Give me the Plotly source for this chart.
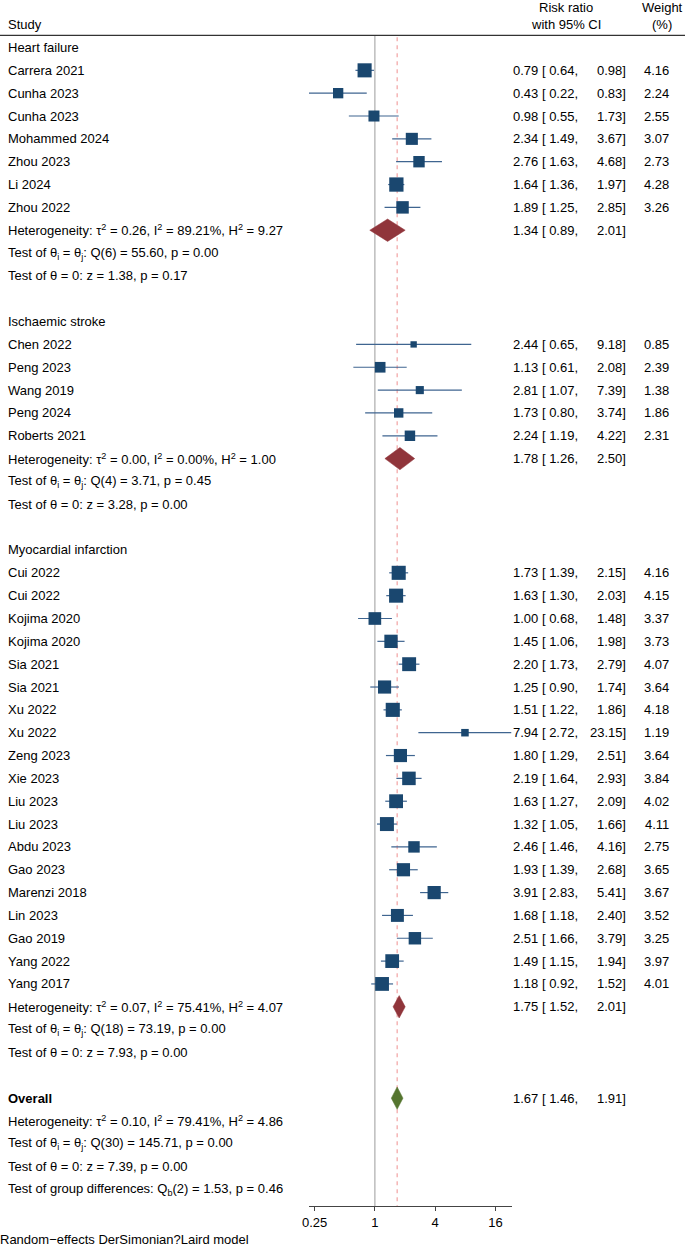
import math
import plotly.graph_objects as go

# ---------------- data ----------------
hf_study = ["Carrera 2021", "Cunha 2023", "Cunha 2023", "Mohammed 2024", "Zhou 2023", "Li 2024", "Zhou 2022"]
hf_rr = [0.79, 0.43, 0.98, 2.34, 2.76, 1.64, 1.89]
hf_lo = [0.64, 0.22, 0.55, 1.49, 1.63, 1.36, 1.25]
hf_hi = [0.98, 0.83, 1.73, 3.67, 4.68, 1.97, 2.85]
hf_wt = [4.16, 2.24, 2.55, 3.07, 2.73, 4.28, 3.26]
hf_pool = [1.34, 0.89, 2.01]
hf_stats = ["0.26", "89.21", "9.27", "6", "55.60", "0.00", "1.38", "0.17"]

is_study = ["Chen 2022", "Peng 2023", "Wang 2019", "Peng 2024", "Roberts 2021"]
is_rr = [2.44, 1.13, 2.81, 1.73, 2.24]
is_lo = [0.65, 0.61, 1.07, 0.80, 1.19]
is_hi = [9.18, 2.08, 7.39, 3.74, 4.22]
is_wt = [0.85, 2.39, 1.38, 1.86, 2.31]
is_pool = [1.78, 1.26, 2.50]
is_stats = ["0.00", "0.00", "1.00", "4", "3.71", "0.45", "3.28", "0.00"]

mi_study = ["Cui 2022", "Cui 2022", "Kojima 2020", "Kojima 2020", "Sia 2021", "Sia 2021",
            "Xu 2022", "Xu 2022", "Zeng 2023", "Xie 2023", "Liu 2023", "Liu 2023",
            "Abdu 2023", "Gao 2023", "Marenzi 2018", "Lin 2023", "Gao 2019", "Yang 2022", "Yang 2017"]
mi_rr = [1.73, 1.63, 1.00, 1.45, 2.20, 1.25, 1.51, 7.94, 1.80, 2.19, 1.63, 1.32, 2.46, 1.93, 3.91, 1.68, 2.51, 1.49, 1.18]
mi_lo = [1.39, 1.30, 0.68, 1.06, 1.73, 0.90, 1.22, 2.72, 1.29, 1.64, 1.27, 1.05, 1.46, 1.39, 2.83, 1.18, 1.66, 1.15, 0.92]
mi_hi = [2.15, 2.03, 1.48, 1.98, 2.79, 1.74, 1.86, 23.15, 2.51, 2.93, 2.09, 1.66, 4.16, 2.68, 5.41, 2.40, 3.79, 1.94, 1.52]
mi_wt = [4.16, 4.15, 3.37, 3.73, 4.07, 3.64, 4.18, 1.19, 3.64, 3.84, 4.02, 4.11, 2.75, 3.65, 3.67, 3.52, 3.25, 3.97, 4.01]
mi_pool = [1.75, 1.52, 2.01]
mi_stats = ["0.07", "75.41", "4.07", "18", "73.19", "0.00", "7.93", "0.00"]

group_names = ["Heart failure", "Ischaemic stroke", "Myocardial infarction"]

overall_pool = [1.67, 1.46, 1.91]
overall_stats = ["0.10", "79.41", "4.86", "30", "145.71", "0.00", "7.39", "0.00"]
group_diff = ["2", "1.53", "0.46"]

x_ticks = [0.25, 1, 4, 16]
x_ticklabels = ["0.25", "1", "4", "16"]

# ---------------- styling / geometry ----------------
W, H = 685, 1247
ROW0, ROWH = 47.5, 22.84          # pixel y of row 0, row height
AX_BOTTOM = 1206                  # pixel y of x axis line
X_LEFT, X_RIGHT = 309.0, 511.5    # pixel extent of plot panel
FONT = "Liberation Sans, Arial, Helvetica, sans-serif"
FS = 13
SQ = "#1a476f"
CI_COL = "#3f6590"
MAROON = "#90353b"
GREEN = "#55752f"

def px(x):
    return x / W

def py(y):
    return 1 - y / H

groups = [
    (group_names[0], hf_study, hf_rr, hf_lo, hf_hi, hf_wt, hf_pool, hf_stats),
    (group_names[1], is_study, is_rr, is_lo, is_hi, is_wt, is_pool, is_stats),
    (group_names[2], mi_study, mi_rr, mi_lo, mi_hi, mi_wt, mi_pool, mi_stats),
]

annotations = []

def left_text(row, text, bold=False):
    annotations.append(dict(x=px(6), xref="paper", y=row, yref="y", text=("<b>%s</b>" % text) if bold else text,
                            showarrow=False, xanchor="left", yanchor="middle",
                            font=dict(family=FONT, size=FS, color="black")))

def right_text(row, xpix, text):
    annotations.append(dict(x=px(xpix), xref="paper", y=row, yref="y", text=text,
                            showarrow=False, xanchor="right", yanchor="middle",
                            font=dict(family=FONT, size=FS, color="black")))

def ci_texts(row, est, lo, hi, wt=None):
    right_text(row, 580, "%.2f [ %.2f," % (est, lo))
    right_text(row, 628, "%.2f]" % hi)
    if wt is not None:
        right_text(row, 671, "%.2f" % wt)

def stat_texts(row, st):
    left_text(row, "Heterogeneity: τ<sup>2</sup> = %s, I<sup>2</sup> = %s%%, H<sup>2</sup> = %s" % (st[0], st[1], st[2]))
    left_text(row + 1, "Test of θ<sub>i</sub> = θ<sub>j</sub>: Q(%s) = %s, p = %s" % (st[3], st[4], st[5]))
    left_text(row + 2, "Test of θ = 0: z = %s, p = %s" % (st[6], st[7]))

ci_x, ci_y = [], []
sq_x, sq_y, sq_s = [], [], []
diamonds = []

r = 0
for name, studies, rr, lo, hi, wt, pool, st in groups:
    left_text(r, name)
    r += 1
    for s, e, l, h, w in zip(studies, rr, lo, hi, wt):
        left_text(r, s)
        ci_texts(r, e, l, h, w)
        ci_x += [l, h, None]
        ci_y += [r, r, None]
        sq_x.append(e)
        sq_y.append(r)
        sq_s.append(6.9 * math.sqrt(w))
        r += 1
    diamonds.append((r, pool, MAROON))
    ci_texts(r, pool[0], pool[1], pool[2])
    stat_texts(r, st)
    r += 4

left_text(r, "Overall", bold=True)
diamonds.append((r, overall_pool, GREEN))
ci_texts(r, overall_pool[0], overall_pool[1], overall_pool[2])
stat_texts(r + 1, overall_stats)
left_text(r + 4, "Test of group differences: Q<sub>b</sub>(%s) = %s, p = %s" % tuple(group_diff))

fig = go.Figure()

y_top_row = (36.0 - ROW0) / ROWH
y_bot_row = (AX_BOTTOM - ROW0) / ROWH

# reference lines (null effect and overall estimate)
fig.add_trace(go.Scatter(x=[1, 1], y=[y_top_row, y_bot_row], mode="lines",
                         line=dict(color="#bdbdbd", width=1.5), hoverinfo="skip"))
fig.add_trace(go.Scatter(x=[overall_pool[0], overall_pool[0]], y=[y_top_row + 0.05, y_bot_row], mode="lines",
                         line=dict(color="#f19b9b", width=1.1, dash="4px,4px"), hoverinfo="skip"))
# confidence intervals
fig.add_trace(go.Scatter(x=ci_x, y=ci_y, mode="lines", line=dict(color=CI_COL, width=1.2),
                         hoverinfo="skip"))
# study squares (area ~ weight)
fig.add_trace(go.Scatter(x=sq_x, y=sq_y, mode="markers",
                         marker=dict(symbol="square", size=sq_s, color=SQ, opacity=1, line=dict(width=0))))
# pooled diamonds
DH = 0.49
for row, (e, l, h), col in diamonds:
    fig.add_trace(go.Scatter(x=[l, e, h, e, l], y=[row, row - DH, row, row + DH, row],
                             mode="lines", fill="toself", fillcolor=col,
                             line=dict(color=col, width=0.5), hoverinfo="skip"))

hdr = [("Study", 6, 24.5, "left"), ("Risk ratio", 566, 7, "center"), ("with 95% CI", 566, 24.5, "center"),
       ("Weight", 662, 7, "center"), ("(%)", 662, 24.5, "center")]
for t, xx, yy, anc in hdr:
    annotations.append(dict(x=px(xx), xref="paper", y=py(yy), yref="paper", text=t, showarrow=False,
                            xanchor=anc, yanchor="middle", font=dict(family=FONT, size=FS, color="black")))
annotations.append(dict(x=px(-2), xref="paper", y=py(1239), yref="paper",
                        text="Random−effects DerSimonian?Laird model", showarrow=False,
                        xanchor="left", yanchor="middle", font=dict(family=FONT, size=FS, color="black")))

all_lo = hf_lo + is_lo + mi_lo
all_hi = hf_hi + is_hi + mi_hi

fig.update_layout(
    width=W, height=H, autosize=False,
    margin=dict(l=0, r=0, t=0, b=0, autoexpand=False),
    paper_bgcolor="white", plot_bgcolor="white",
    showlegend=False,
    annotations=annotations,
    shapes=[dict(type="line", xref="paper", yref="paper", x0=0, x1=1, y0=py(35.3), y1=py(35.3),
                 line=dict(color="black", width=1))],
    xaxis=dict(type="log", domain=[px(X_LEFT), px(X_RIGHT)], automargin=False,
               range=[math.log10(min(all_lo)), math.log10(max(all_hi))],
               tickvals=x_ticks, ticktext=x_ticklabels, showgrid=False, zeroline=False,
               showline=True, linecolor="#444444", linewidth=1, ticks="outside", ticklen=4,
               tickcolor="#444444", tickfont=dict(family=FONT, size=FS, color="black")),
    yaxis=dict(domain=[1 - AX_BOTTOM / H, 1], automargin=False,
               range=[y_bot_row, (0 - ROW0) / ROWH],
               visible=False, showgrid=False, zeroline=False),
)

fig.write_html(
    "out.html",
    config={"displayModeBar": False, "responsive": False},
    post_script=("document.documentElement.style.margin='0';document.body.style.margin='0';"
                 "document.body.style.padding='0';document.documentElement.style.overflow='hidden';"
                 "document.body.style.overflow='hidden';"),
)
